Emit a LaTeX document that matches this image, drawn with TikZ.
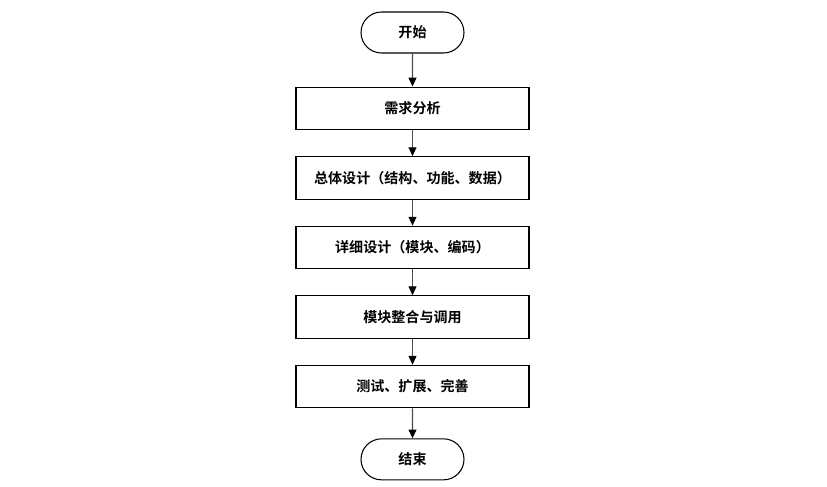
\documentclass[tikz,border=0pt]{standalone}
\usepackage{fontspec}
\setmainfont{Noto Sans CJK SC}[BoldFont={Noto Sans CJK SC Bold}]
\usepackage{xcolor}
\usepackage{tikz}
\usetikzlibrary{positioning,arrows.meta,shapes.misc}

\begin{document}
\begin{tikzpicture}[
  fterm/.style={draw=black, rounded rectangle, line width=0.6pt, font=\fontsize{8}{9}\selectfont\bfseries, minimum width=2.06cm, minimum height=0.82cm, inner sep=0pt},
  fstage/.style={draw=black, line width=0.6pt, font=\fontsize{8}{9}\selectfont\bfseries, minimum width=4.66cm, minimum height=0.85cm, inner sep=0pt, align=center},
  farrow/.style={-{Triangle[width=4.5pt,length=5pt,color=black]}, black!70, line width=0.6pt},
]
\useasboundingbox (0,0) rectangle (16.54,-9.72);
\node[fterm] (start) at (8.25,-0.65) {开始};
\node[fstage, below=0.66cm of start] (req)  {需求分析};
\node[fstage, below=0.52cm of req]   (arch) {总体设计（结构、功能、数据）};
\node[fstage, below=0.52cm of arch]  (det)  {详细设计（模块、编码）};
\node[fstage, below=0.52cm of det]   (intg) {模块整合与调用};
\node[fstage, below=0.52cm of intg]  (test) {测试、扩展、完善};
\node[fterm, below=0.6cm of test]    (stop) {结束};
\draw[farrow] (start) -- (req);
\draw[farrow] (req)   -- (arch);
\draw[farrow] (arch)  -- (det);
\draw[farrow] (det)   -- (intg);
\draw[farrow] (intg)  -- (test);
\draw[farrow] (test)  -- (stop);
\end{tikzpicture}
\end{document}
